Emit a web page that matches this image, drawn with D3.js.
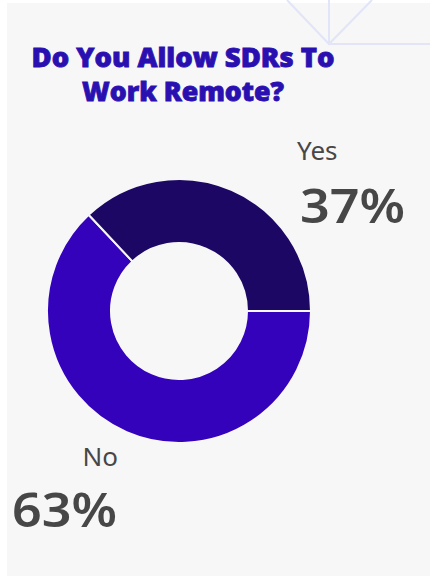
<!DOCTYPE html>
<html>
<head>
<meta charset="utf-8">
<script src="https://cdn.jsdelivr.net/npm/d3@7"></script>
<style>
  html, body { margin: 0; padding: 0; background: #ffffff; }
  svg { display: block; }
</style>
</head>
<body>
<div id="chart"></div>
<script>
// Survey answers
const categories = ["No", "Yes"];
const values = [63, 37];
const colors = ["#3402ba", "#1c0764"];
const titleLines = ["Do You Allow SDRs To", "Work Remote?"];

const W = 430, H = 576;
const svg = d3.select("#chart").append("svg")
  .attr("width", W).attr("height", H);

// card background
svg.append("rect").attr("x", 7).attr("y", 3)
  .attr("width", W - 7).attr("height", H - 3)
  .attr("fill", "#f7f7f7");

// light decorative lines in the top-right corner
const deco = svg.append("g").attr("stroke", "#e1e5f7").attr("stroke-width", 2).attr("fill", "none");
deco.append("path").attr("d", "M287,0 L329,44 L372,0");
deco.append("path").attr("d", "M329,0 L329,44 L430,44");

// title, two centred lines
const titleWidths = [303, 202];
svg.selectAll("text.title").data(titleLines).join("text")
  .attr("class", "title")
  .attr("x", 183)
  .attr("y", (d, i) => 67 + i * 34)
  .attr("text-anchor", "middle")
  .attr("font-family", "'Open Sans', 'Noto Sans', sans-serif")
  .attr("font-weight", 800)
  .attr("font-size", 26)
  .attr("fill", "#2a10b0")
  .attr("stroke", "#2a10b0")
  .attr("stroke-width", 0.8)
  .attr("textLength", (d, i) => titleWidths[i])
  .attr("lengthAdjust", "spacingAndGlyphs")
  .text(d => d);

// donut
const cx = 179, cy = 311;
const pie = d3.pie().sort(null).value(d => d)
  .startAngle(Math.PI / 2).endAngle(Math.PI / 2 + 2 * Math.PI);
const arc = d3.arc().innerRadius(68).outerRadius(132);
const g = svg.append("g").attr("transform", `translate(${cx},${cy})`);
g.selectAll("path").data(pie(values)).join("path")
  .attr("d", arc)
  .attr("fill", (d, i) => colors[i])
  .attr("stroke", "#f7f7f7")
  .attr("stroke-width", 2);

// category names and percentages
const labelPos = [
  { catX: 118, catY: 466, anchor: "end", pctX: 12, pctY: 527 },
  { catX: 297, catY: 160, anchor: "start", pctX: 300, pctY: 223 }
];
const fmt = d => d + "%";
categories.forEach((c, i) => {
  const p = labelPos[i];
  svg.append("text")
    .attr("x", p.catX).attr("y", p.catY)
    .attr("text-anchor", p.anchor)
    .attr("font-family", "'Noto Sans', 'Open Sans', sans-serif")
    .attr("font-size", 26)
    .attr("fill", "#474747")
    .text(c);
  svg.append("text")
    .attr("x", p.pctX).attr("y", p.pctY)
    .attr("font-family", "'Noto Sans', 'Open Sans', sans-serif")
    .attr("font-weight", 600)
    .attr("font-size", 47)
    .attr("fill", "#474747")
    .attr("textLength", 105)
    .attr("lengthAdjust", "spacingAndGlyphs")
    .text(fmt(values[i]));
});
</script>
</body>
</html>
